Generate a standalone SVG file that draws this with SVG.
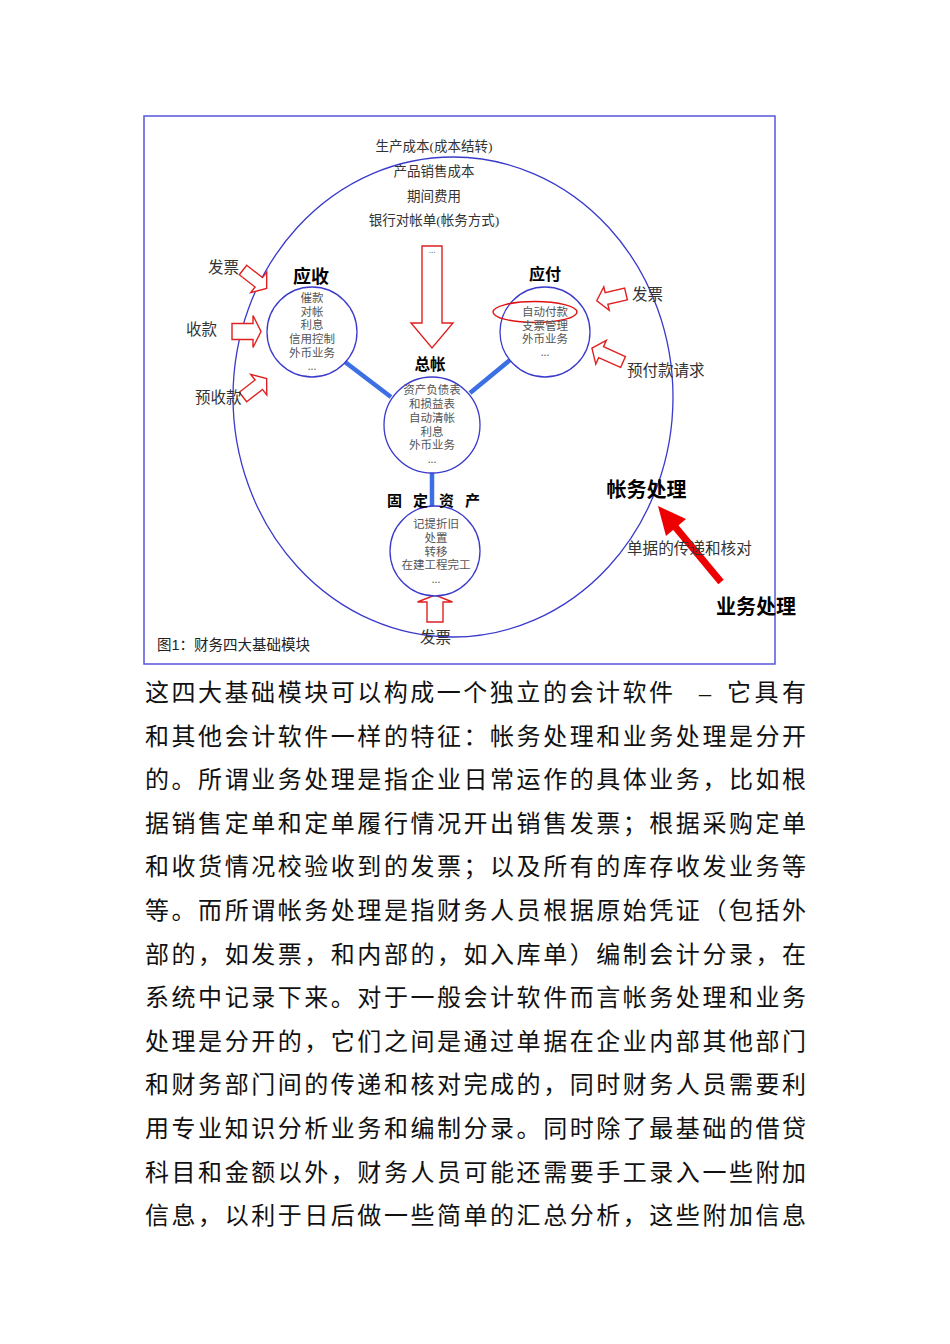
<svg xmlns="http://www.w3.org/2000/svg" width="950" height="1344" viewBox="0 0 950 1344">
<style>
.frame{fill:none;stroke:#5555dd;stroke-width:1.5}
.ring{fill:none;stroke:#3a3acc;stroke-width:1.3}
.node{fill:#fff;stroke:#3a3acc;stroke-width:1.3}
.link{stroke:#3b6fe3;stroke-width:4.5;fill:none}
.harrow{fill:#fff;stroke:#e02020;stroke-width:1.4;stroke-linejoin:miter}
.t{font-family:"Liberation Serif","Noto Sans CJK SC",serif;fill:#333}
.top{font-size:13.5px;text-anchor:middle}
.in{font-size:11.5px;fill:#555;text-anchor:middle}
.title{font-family:"Liberation Sans","Noto Sans CJK SC",sans-serif;font-weight:bold;fill:#000;text-anchor:middle}
.lab{font-size:15.5px;fill:#333}
.para{font-family:"Liberation Serif","Noto Sans CJK SC",serif;font-size:24px;fill:#111}
</style>
<rect class="frame" x="144" y="116" width="631" height="548"/>
<ellipse class="ring" cx="453" cy="397" rx="220" ry="240"/>

<g id="top-texts">
<text class="t top" x="434" y="151">生产成本(成本结转)</text>
<text class="t top" x="434" y="176">产品销售成本</text>
<text class="t top" x="434" y="201">期间费用</text>
<text class="t top" x="434" y="225">银行对帐单(帐务方式)</text>
</g>

<g id="connectors">
<line class="link" x1="345" y1="362" x2="391" y2="397"/>
<line class="link" x1="510" y1="360" x2="470" y2="393"/>
<line class="link" x1="432" y1="473" x2="432" y2="506"/>
</g>

<g id="arrows">
<polygon class="harrow" transform="translate(432,246) rotate(90)" points="0,-10 77,-10 77,-21 102,0 77,21 77,10 0,10"/>
<polygon class="harrow" transform="translate(243,270) rotate(38)" points="0,-6 20,-6 20,-13 30,0 20,13 20,6 0,6"/>
<polygon class="harrow" transform="translate(232,331.5)" points="0,-8 21,-8 21,-16 29,0 21,16 21,8 0,8"/>
<polygon class="harrow" transform="translate(243,397) rotate(-38)" points="0,-6 20,-6 20,-13 30,0 20,13 20,6 0,6"/>
<polygon class="harrow" transform="translate(626,294) rotate(167)" points="0,-6 20,-6 20,-12 30,0 20,12 20,6 0,6"/>
<polygon class="harrow" transform="translate(623,362) rotate(204)" points="0,-6 24,-6 24,-13 34,0 24,13 24,6 0,6"/>
<polygon class="harrow" transform="translate(435,622) rotate(-90)" points="0,-8 20,-8 20,-17.5 27,0 20,17.5 20,8 0,8"/>
<line x1="721" y1="582" x2="672" y2="523" stroke="#ee0000" stroke-width="7"/>
<polygon fill="#ee0000" points="658,506 686,519 666,536"/>
</g>
<text class="t" x="432" y="253" font-size="9" text-anchor="middle">...</text>

<g id="node-ar">
<circle class="node" cx="312" cy="332" r="45"/>
<text class="title" x="311" y="283" font-size="18">应收</text>
<text class="t in" x="312" y="302">催款</text>
<text class="t in" x="312" y="316">对帐</text>
<text class="t in" x="312" y="329">利息</text>
<text class="t in" x="312" y="343">信用控制</text>
<text class="t in" x="312" y="357">外币业务</text>
<text class="t in" x="312" y="370">...</text>
</g>

<g id="node-gl">
<circle class="node" cx="432" cy="425" r="48"/>
<text class="title" x="430" y="370" font-size="15.5">总帐</text>
<text class="t in" x="432" y="394">资产负债表</text>
<text class="t in" x="432" y="408">和损益表</text>
<text class="t in" x="432" y="422">自动清帐</text>
<text class="t in" x="432" y="436">利息</text>
<text class="t in" x="432" y="449">外币业务</text>
<text class="t in" x="432" y="463">...</text>
</g>

<g id="node-ap">
<circle class="node" cx="545" cy="332" r="45"/>
<text class="title" x="545" y="280" font-size="16">应付</text>
<ellipse cx="535" cy="312" rx="42" ry="10.5" fill="none" stroke="#dd1111" stroke-width="1.4"/>
<text class="t in" x="545" y="316">自动付款</text>
<text class="t in" x="545" y="330">支票管理</text>
<text class="t in" x="545" y="343">外币业务</text>
<text class="t in" x="545" y="356">...</text>
</g>

<g id="node-fa">
<circle class="node" cx="435" cy="551" r="45"/>
<text class="title" x="387" y="506" font-size="15" letter-spacing="11" style="text-anchor:start">固定资产</text>
<text class="t in" x="436" y="528">记提折旧</text>
<text class="t in" x="436" y="542">处置</text>
<text class="t in" x="436" y="556">转移</text>
<text class="t in" x="436" y="569">在建工程完工</text>
<text class="t in" x="436" y="583">...</text>
</g>

<g id="labels">
<text class="t lab" x="208" y="273">发票</text>
<text class="t lab" x="186" y="335">收款</text>
<text class="t lab" x="195" y="403">预收款</text>
<text class="t lab" x="632" y="300">发票</text>
<text class="t lab" x="627" y="376">预付款请求</text>
<text class="t lab" x="420" y="643">发票</text>
<text class="t" x="627" y="554" font-size="15.6" fill="#444">单据的传递和核对</text>
<text class="title" x="646.5" y="497" font-size="20">帐务处理</text>
<text class="title" x="756" y="614" font-size="20">业务处理</text>
<text x="157" y="650" font-family="Liberation Sans,'Noto Sans CJK SC',sans-serif" font-size="14.5" fill="#222">图1：财务四大基础模块</text>
</g>

<g id="paragraph">
<text class="para" x="145" y="701" textLength="528" lengthAdjust="spacing">这四大基础模块可以构成一个独立的会计软件</text>
<text class="para" x="699" y="701">–</text>
<text class="para" x="727" y="701" textLength="79" lengthAdjust="spacing">它具有</text>
<text class="para" x="145" y="745" textLength="661" lengthAdjust="spacing">和其他会计软件一样的特征：帐务处理和业务处理是分开</text>
<text class="para" x="145" y="788" textLength="661" lengthAdjust="spacing">的。所谓业务处理是指企业日常运作的具体业务，比如根</text>
<text class="para" x="145" y="832" textLength="661" lengthAdjust="spacing">据销售定单和定单履行情况开出销售发票；根据采购定单</text>
<text class="para" x="145" y="875" textLength="661" lengthAdjust="spacing">和收货情况校验收到的发票；以及所有的库存收发业务等</text>
<text class="para" x="145" y="919" textLength="661" lengthAdjust="spacing">等。而所谓帐务处理是指财务人员根据原始凭证（包括外</text>
<text class="para" x="145" y="963" textLength="661" lengthAdjust="spacing">部的，如发票，和内部的，如入库单）编制会计分录，在</text>
<text class="para" x="145" y="1006" textLength="661" lengthAdjust="spacing">系统中记录下来。对于一般会计软件而言帐务处理和业务</text>
<text class="para" x="145" y="1050" textLength="661" lengthAdjust="spacing">处理是分开的，它们之间是通过单据在企业内部其他部门</text>
<text class="para" x="145" y="1093" textLength="661" lengthAdjust="spacing">和财务部门间的传递和核对完成的，同时财务人员需要利</text>
<text class="para" x="145" y="1137" textLength="661" lengthAdjust="spacing">用专业知识分析业务和编制分录。同时除了最基础的借贷</text>
<text class="para" x="145" y="1181" textLength="661" lengthAdjust="spacing">科目和金额以外，财务人员可能还需要手工录入一些附加</text>
<text class="para" x="145" y="1224" textLength="661" lengthAdjust="spacing">信息，以利于日后做一些简单的汇总分析，这些附加信息</text>
</g>
</svg>
